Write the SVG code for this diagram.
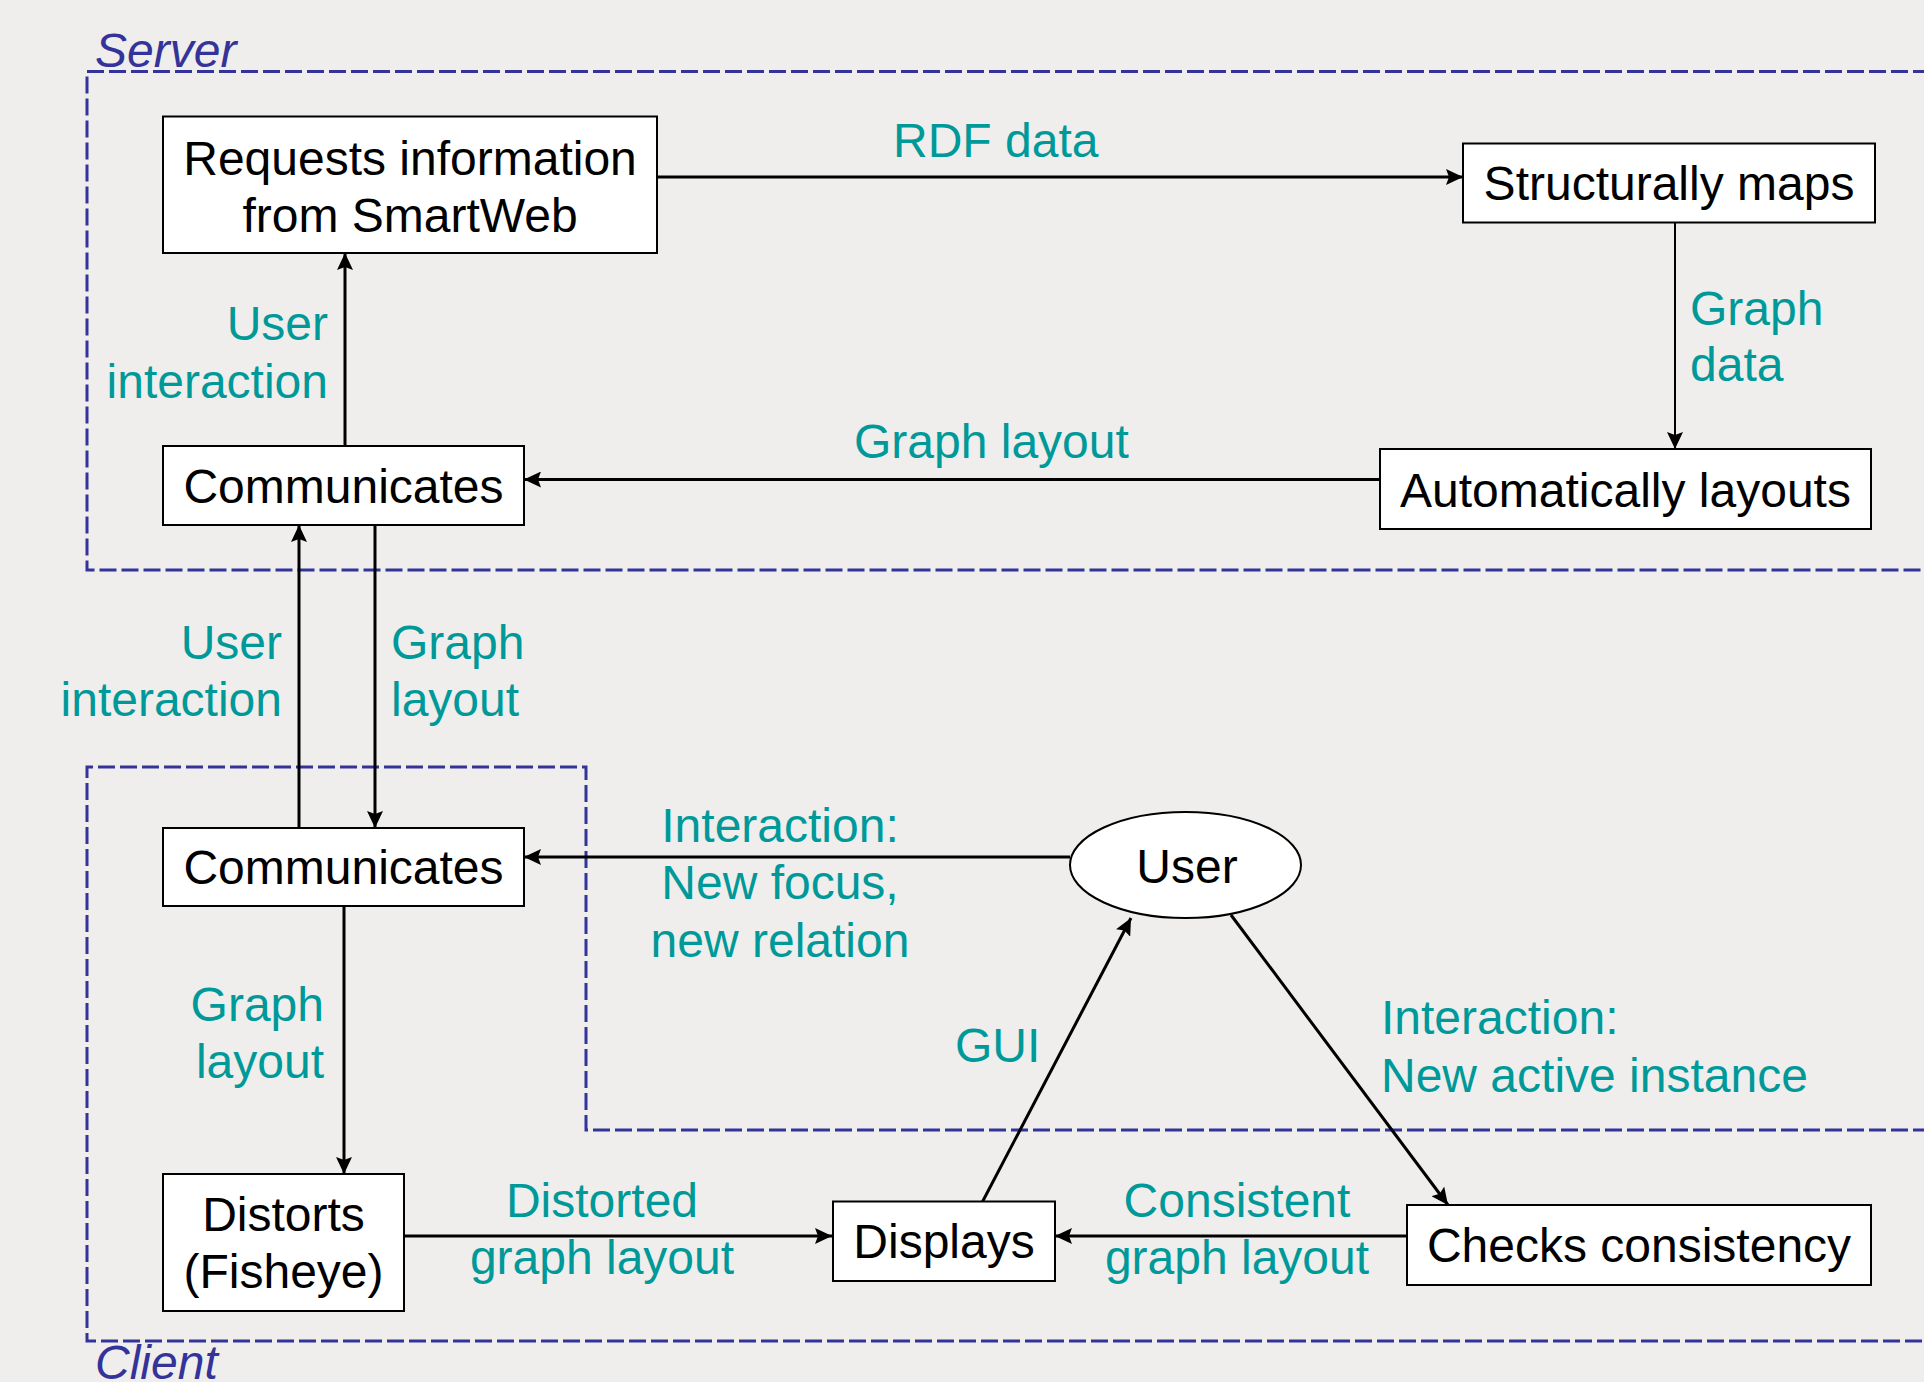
<svg xmlns="http://www.w3.org/2000/svg" width="1924" height="1382" viewBox="0 0 1924 1382">
  <style>
    .box { fill: #ffffff; stroke: #000000; stroke-width: 2; }
    .node { font-family: "Liberation Sans", Arial, sans-serif; font-size: 48px; fill: #000000; }
    .lbl { font-family: "Liberation Sans", Arial, sans-serif; font-size: 48px; fill: #009999; }
    .zone { fill: none; stroke: #333399; stroke-width: 3; stroke-dasharray: 17 5; }
    .zonelbl { font-family: "Liberation Sans", Arial, sans-serif; font-size: 48px; font-style: italic; fill: #333399; }
    .edge { fill: none; stroke: #000000; stroke-width: 3; marker-end: url(#arrow); }
    .edge.thin { stroke-width: 2; }
  </style>
  <defs>
    <marker id="arrow" markerUnits="userSpaceOnUse" markerWidth="18" markerHeight="16" refX="17" refY="8" orient="auto" viewBox="0 0 18 16">
      <path d="M0,0 L17,8 L0,16 L3,8 z" fill="#000000"/>
    </marker>
  </defs>

  <!-- background -->
  <rect x="0" y="0" width="1924" height="1382" fill="#efeeec"/>

  <!-- server / client zones -->
  <g id="zone-server">
    <path class="zone" d="M1930,71.5 L87,71.5 L87,570 L1930,570"/>
    <text class="zonelbl" x="95" y="67">Server</text>
  </g>
  <g id="zone-client">
    <path class="zone" d="M1930,1130 L586,1130 L586,767 L87,767 L87,1341 L1930,1341"/>
    <text class="zonelbl" x="95" y="1379">Client</text>
  </g>

  <!-- connectors -->
  <g id="connectors">
    <line class="edge" x1="657" y1="177" x2="1463" y2="177"/>
    <line class="edge thin" x1="1675" y1="223" x2="1675" y2="449"/>
    <line class="edge" x1="1380" y1="479.5" x2="524" y2="479.5"/>
    <line class="edge" x1="345" y1="446" x2="345" y2="253"/>
    <line class="edge" x1="299" y1="828" x2="299" y2="525"/>
    <line class="edge" x1="375" y1="525" x2="375" y2="828"/>
    <line class="edge" x1="1070" y1="857" x2="524" y2="857"/>
    <line class="edge" x1="344" y1="906" x2="344" y2="1174"/>
    <line class="edge" x1="404" y1="1236" x2="832" y2="1236"/>
    <line class="edge" x1="1407" y1="1236" x2="1055" y2="1236"/>
    <line class="edge" x1="982.6" y1="1201.5" x2="1131" y2="918"/>
    <line class="edge" x1="1231" y1="915" x2="1448" y2="1205"/>

    <!-- connector labels -->
    <text class="lbl" x="893" y="157">RDF data</text>
    <text class="lbl" x="1690" y="324.5">Graph</text>
    <text class="lbl" x="1690" y="381">data</text>
    <text class="lbl" x="854" y="458">Graph layout</text>
    <text class="lbl" x="328" y="340" text-anchor="end">User</text>
    <text class="lbl" x="328" y="398" text-anchor="end">interaction</text>
    <text class="lbl" x="282" y="659" text-anchor="end">User</text>
    <text class="lbl" x="282" y="716" text-anchor="end">interaction</text>
    <text class="lbl" x="391" y="659">Graph</text>
    <text class="lbl" x="391" y="716">layout</text>
    <text class="lbl" x="780" y="842" text-anchor="middle">Interaction:</text>
    <text class="lbl" x="780" y="899" text-anchor="middle">New focus,</text>
    <text class="lbl" x="780" y="957" text-anchor="middle">new relation</text>
    <text class="lbl" x="324" y="1021" text-anchor="end">Graph</text>
    <text class="lbl" x="324" y="1078" text-anchor="end">layout</text>
    <text class="lbl" x="955" y="1062">GUI</text>
    <text class="lbl" x="1381" y="1034">Interaction:</text>
    <text class="lbl" x="1381" y="1091.5">New active instance</text>
    <text class="lbl" x="602" y="1217" text-anchor="middle">Distorted</text>
    <text class="lbl" x="602" y="1274" text-anchor="middle">graph layout</text>
    <text class="lbl" x="1237" y="1217" text-anchor="middle">Consistent</text>
    <text class="lbl" x="1237" y="1274" text-anchor="middle">graph layout</text>
  </g>

  <!-- nodes -->
  <g id="requests">
    <rect class="box" x="163" y="116.5" width="494" height="136.5"/>
    <text class="node" x="410" y="175" text-anchor="middle">Requests information</text>
    <text class="node" x="410" y="232" text-anchor="middle">from SmartWeb</text>
  </g>
  <g id="structurally-maps">
    <rect class="box" x="1463" y="143.5" width="412" height="79"/>
    <text class="node" x="1669" y="200" text-anchor="middle">Structurally maps</text>
  </g>
  <g id="automatically-layouts">
    <rect class="box" x="1380" y="449" width="491" height="80"/>
    <text class="node" x="1625.5" y="507" text-anchor="middle">Automatically layouts</text>
  </g>
  <g id="communicates-server">
    <rect class="box" x="163" y="446" width="361" height="79"/>
    <text class="node" x="343.5" y="503" text-anchor="middle">Communicates</text>
  </g>
  <g id="communicates-client">
    <rect class="box" x="163" y="828" width="361" height="78"/>
    <text class="node" x="343.5" y="884" text-anchor="middle">Communicates</text>
  </g>
  <g id="user">
    <ellipse class="box" cx="1185.5" cy="865" rx="115.5" ry="53"/>
    <text class="node" x="1187" y="883" text-anchor="middle">User</text>
  </g>
  <g id="distorts">
    <rect class="box" x="163" y="1174" width="241" height="137"/>
    <text class="node" x="283.5" y="1231" text-anchor="middle">Distorts</text>
    <text class="node" x="283.5" y="1288" text-anchor="middle">(Fisheye)</text>
  </g>
  <g id="displays">
    <rect class="box" x="833" y="1201.5" width="222" height="79.5"/>
    <text class="node" x="944" y="1258" text-anchor="middle">Displays</text>
  </g>
  <g id="checks-consistency">
    <rect class="box" x="1407" y="1205" width="464" height="80"/>
    <text class="node" x="1639" y="1262" text-anchor="middle">Checks consistency</text>
  </g>
</svg>
